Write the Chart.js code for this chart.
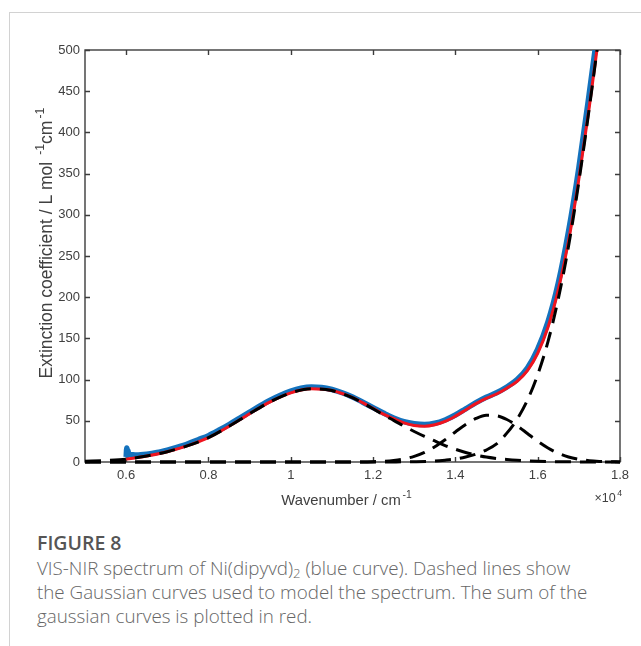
<!DOCTYPE html>
<html>
<head>
<meta charset="utf-8">
<script src="https://cdn.jsdelivr.net/npm/chart.js@4.4.1/dist/chart.umd.min.js"></script>
<style>
  html, body { margin: 0; padding: 0; background: #fff; }
  body { width: 641px; height: 646px; position: relative; overflow: hidden; }
  #frame {
    position: absolute; left: 9px; top: 12px; width: 700px; height: 700px;
    border-top: 1px solid #d2d2d2; border-left: 1px solid #d2d2d2;
  }
  #plot { position: absolute; left: 0; top: 0; }
  #caption {
    position: absolute; left: 37px; top: 531px; width: 600px; white-space: nowrap;
    font-family: "Open Sans", "Noto Sans", sans-serif; color: #666;
  }
  #caption .fig { font-size: 19.5px; font-weight: 600; line-height: 24px; margin: 0; color: #555; }
  #caption .text { font-size: 18.8px; font-weight: 300; line-height: 24px; margin: 1px 0 0 0; }
  #caption sub { font-size: 0.7em; line-height: 0; vertical-align: -0.25em; }
</style>
</head>
<body>
<div id="frame"></div>
<canvas id="plot" width="641" height="520"></canvas>
<div id="caption">
  <div class="fig">FIGURE 8</div>
  <div class="text">VIS-NIR spectrum of Ni(dipyvd)<sub>2</sub> (blue curve). Dashed lines show<br>the Gaussian curves used to model the spectrum. The sum of the<br>gaussian curves is plotted in red.</div>
</div>
<script>
// Axis ticks
const xTickValues = [6000, 8000, 10000, 12000, 14000, 16000, 18000];
const xTickLabels = ['0.6', '0.8', '1', '1.2', '1.4', '1.6', '1.8'];
const yTickValues = [0, 50, 100, 150, 200, 250, 300, 350, 400, 450, 500];
const yTickLabels = ['0', '50', '100', '150', '200', '250', '300', '350', '400', '450', '500'];

// Measured spectrum (blue), wavenumber in cm^-1, extinction in L mol^-1 cm^-1
const dataWavenumber = [6000, 6015, 6030, 6045, 6060, 6100,
  6250, 6500, 6750, 7000, 7250, 7500, 7750, 8000, 8250, 8500,
  8750, 9000, 9250, 9500, 9750, 10000, 10250, 10500, 10750, 11000,
  11250, 11500, 11750, 12000, 12250, 12500, 12750, 13000, 13250, 13500,
  13750, 14000, 14250, 14500, 14750, 15000, 15250, 15500, 15750, 16000,
  16250, 16500, 16750, 17000, 17250, 17500];
const dataValues = [6, 17, 8, 14, 9.5, 9,
  8.5, 9.5, 11.5, 14.5, 18, 22, 27, 32, 38.5, 45.5,
  53, 60.5, 68, 75, 81, 86, 89.5, 91, 90.5, 88,
  84, 79, 72.5, 66, 59.5, 53.5, 49, 46.5, 45.5, 47,
  51, 57, 64.5, 72, 78.5, 84, 91, 100, 114, 137,
  170, 217, 280, 357, 446, 540];

// Sum of the fitted Gaussian bands (red)
const sumWavenumber = [6000, 6500, 7000, 7500, 8000, 8500, 9000, 9500, 10000, 10500,
  11000, 11500, 12000, 12250, 12500, 12750, 13000, 13250, 13500, 13750,
  14000, 14250, 14500, 14750, 15000, 15250, 15500, 15750, 16000, 16250,
  16500, 16750, 17000, 17250, 17500];
const sumValues = [3.5, 7.2, 12.5, 19.8, 29.5, 43.3, 58.6, 73.0, 83.9, 88.9,
  86.7, 78.1, 65.0, 58.0, 52.5, 47.4, 44.3, 43.4, 45.2, 49.2,
  55.6, 63.1, 70.8, 77.2, 82.5, 89.6, 97.9, 110.9, 132.0, 163.5,
  208.9, 268.3, 343.4, 429.7, 522.8];

// Gaussian band 1 (~10600 cm^-1)
const band1Wavenumber = [5000, 5500, 6000, 6500, 7000, 7500, 8000, 8500, 9000, 9500,
  10000, 10500, 11000, 11500, 12000, 12250, 12500, 12750, 13000, 13250,
  13500, 13750, 14000, 14250, 14500, 14750, 15000, 15250, 15500, 15750,
  16000, 16500, 17000, 17500, 18000];
const band1Values = [0.8, 1.8, 3.5, 7.2, 12.5, 19.8, 29.5, 43.3, 58.6, 73.0,
  83.9, 88.9, 86.7, 78.0, 64.6, 57.1, 50.5, 43.5, 37, 31,
  25.5, 20, 15.5, 11.5, 8.5, 6, 4.3, 3, 2, 1.3,
  0.8, 0.35, 0.12, 0.04, 0.01];

// Gaussian band 2 (~14850 cm^-1)
const band2Wavenumber = [5000, 11000, 11500, 12000, 12250, 12500, 12750, 13000, 13250, 13500,
  13750, 14000, 14250, 14500, 14750, 15000, 15250, 15500, 15750, 16000,
  16250, 16500, 16750, 17000, 17250, 17500, 17750, 18000];
const band2Values = [0, 0, 0.06, 0.38, 0.9, 1.9, 3.7, 6.9, 11.7, 18.5,
  27.0, 36.5, 45.6, 52.8, 56.7, 56.2, 51.6, 43.9, 34.6, 25.2,
  17.0, 10.6, 6.1, 3.3, 1.6, 0.75, 0.32, 0.12];

// Gaussian band 3 (intense band above the visible range)
const band3Wavenumber = [5000, 12000, 12500, 13000, 13500, 13750, 14000, 14250, 14500, 14750,
  15000, 15250, 15500, 15750, 16000, 16250, 16500, 16750, 17000, 17250,
  17500, 17750];
const band3Values = [0, 0, 0.1, 0.4, 1.2, 2.2, 3.6, 6, 9.5, 14.5,
  22, 35, 52, 75, 106, 146, 198, 262, 340, 428,
  522, 620];

const toPoints = (xs, ys) => xs.map((x, i) => ({ x: x, y: ys[i] }));

const AXIS_COLOR = '#3c3c3c';
const LABEL_COLOR = '#404040';
const AXIS_FONT = '"Liberation Sans", Arial, Helvetica, sans-serif';

const dashed = (label, xs, ys) => ({
  label: label,
  data: toPoints(xs, ys),
  borderColor: '#000000',
  borderWidth: 3,
  borderDash: [16, 9],
  clip: { left: 0, top: 0, right: 0, bottom: 3 }
});

// Draws a run of text pieces; pieces flagged sup are smaller and raised.
function richWidth(ctx, parts, size) {
  let w = 0;
  parts.forEach(p => {
    ctx.font = (p.sup ? size * 0.7 : size) + 'px ' + AXIS_FONT;
    w += ctx.measureText(p.t).width + (p.sup ? size * 0.12 : 0);
  });
  return w;
}
function drawRich(ctx, parts, size, x, y) {
  let cx = x;
  ctx.textAlign = 'left';
  ctx.textBaseline = 'alphabetic';
  parts.forEach(p => {
    if (p.sup) cx += size * 0.12;
    ctx.font = (p.sup ? size * 0.7 : size) + 'px ' + AXIS_FONT;
    ctx.fillText(p.t, cx, p.sup ? y - size * 0.45 : y);
    cx += ctx.measureText(p.t).width;
  });
}

const xTitle = [{ t: 'Wavenumber / cm' }, { t: '-1', sup: true }];
const yTitle = [{ t: 'Extinction coefficient / L mol ' }, { t: '-1', sup: true }, { t: 'cm' }, { t: '-1', sup: true }];
const xExponent = [{ t: '×10' }, { t: '4', sup: true }];

// Box with inward ticks on all four sides, axis titles and the x exponent
const boxPlugin = {
  id: 'box',
  beforeDatasetsDraw(chart) {
    const { ctx, chartArea: a, scales } = chart;
    const len = 5;
    ctx.save();
    ctx.strokeStyle = AXIS_COLOR;
    ctx.lineWidth = 1.4;
    ctx.strokeRect(a.left, a.top, a.right - a.left, a.bottom - a.top);
    ctx.beginPath();
    xTickValues.forEach(v => {
      const px = Math.round(scales.x.getPixelForValue(v)) + 0.5;
      ctx.moveTo(px, a.bottom); ctx.lineTo(px, a.bottom - len);
      ctx.moveTo(px, a.top); ctx.lineTo(px, a.top + len);
    });
    yTickValues.forEach(v => {
      const py = Math.round(scales.y.getPixelForValue(v)) + 0.5;
      ctx.moveTo(a.left, py); ctx.lineTo(a.left + len, py);
      ctx.moveTo(a.right, py); ctx.lineTo(a.right - len, py);
    });
    ctx.stroke();
    ctx.restore();
  },
  afterDraw(chart) {
    const { ctx, chartArea: a } = chart;
    ctx.save();
    ctx.fillStyle = LABEL_COLOR;

    const xs = 14.8;
    const xw = richWidth(ctx, xTitle, xs);
    drawRich(ctx, xTitle, xs, (a.left + a.right) / 2 - xw / 2 - 6, 505);

    const ys = 17.5;
    const yw = richWidth(ctx, yTitle, ys);
    ctx.save();
    ctx.translate(52, (a.top + a.bottom) / 2 - 13);
    ctx.rotate(-Math.PI / 2);
    drawRich(ctx, yTitle, ys, -yw / 2, 0);
    ctx.restore();

    const es = 12.5;
    const ew = richWidth(ctx, xExponent, es);
    drawRich(ctx, xExponent, es, a.right + 2 - ew, 502);
    ctx.restore();
  }
};

new Chart(document.getElementById('plot'), {
  type: 'line',
  data: {
    datasets: [
      dashed('Gaussian 1', band1Wavenumber, band1Values),
      dashed('Gaussian 2', band2Wavenumber, band2Values),
      dashed('Gaussian 3', band3Wavenumber, band3Values),
      {
        label: 'Sum of Gaussians',
        data: toPoints(sumWavenumber, sumValues),
        borderColor: 'rgb(240, 20, 30)',
        borderWidth: 3
      },
      {
        label: 'Ni(dipyvd)2',
        data: toPoints(dataWavenumber, dataValues),
        borderColor: 'rgb(20, 114, 189)',
        borderWidth: 5.5
      }
    ]
  },
  options: {
    responsive: false,
    animation: false,
    devicePixelRatio: 1,
    elements: {
      point: { radius: 0, hoverRadius: 0 },
      line: { cubicInterpolationMode: 'monotone', borderCapStyle: 'butt', borderJoinStyle: 'round' }
    },
    layout: { padding: { left: 0, right: 21, top: 50, bottom: 0 } },
    plugins: { legend: { display: false }, tooltip: { enabled: false } },
    scales: {
      x: {
        type: 'linear',
        min: 5000,
        max: 18000,
        afterBuildTicks: s => { s.ticks = xTickValues.map(v => ({ value: v })); },
        afterFit: s => { s.height = 58; },
        grid: { display: false, drawTicks: false },
        border: { display: false },
        ticks: {
          padding: 6,
          color: LABEL_COLOR,
          font: { family: AXIS_FONT, size: 13 },
          maxRotation: 0,
          callback: v => xTickLabels[xTickValues.indexOf(v)]
        },
        title: { display: false }
      },
      y: {
        type: 'linear',
        min: 0,
        max: 500,
        afterBuildTicks: s => { s.ticks = yTickValues.map(v => ({ value: v })); },
        afterFit: s => { s.width = 85; },
        grid: { display: false, drawTicks: false },
        border: { display: false },
        ticks: {
          padding: 5,
          color: LABEL_COLOR,
          font: { family: AXIS_FONT, size: 13 },
          callback: v => yTickLabels[yTickValues.indexOf(v)]
        },
        title: { display: false }
      }
    }
  },
  plugins: [boxPlugin]
});
</script>
</body>
</html>
